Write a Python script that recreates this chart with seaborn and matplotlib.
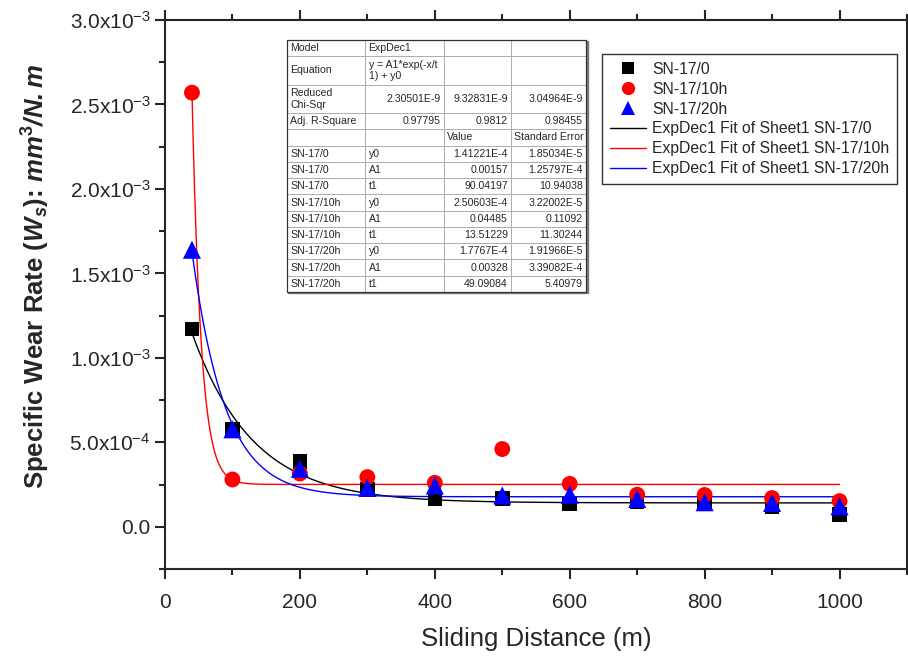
import numpy as np
import pandas as pd
import matplotlib
matplotlib.use("Agg")
import matplotlib.pyplot as plt
import matplotlib.transforms as mtransforms
import seaborn as sns
from matplotlib.lines import Line2D
from matplotlib.patches import Rectangle
from matplotlib.ticker import MultipleLocator, FuncFormatter

# ---- data ----
samples = ["SN-17/0", "SN-17/10h", "SN-17/20h"]
distance = [40, 100, 200, 300, 400, 500, 600, 700, 800, 900, 1000]
wear_0 = [1.17e-3, 5.75e-4, 3.85e-4, 2.20e-4, 1.67e-4, 1.67e-4, 1.35e-4, 1.50e-4, 1.45e-4, 1.17e-4, 7.1e-5]
wear_10h = [2.57e-3, 2.80e-4, 3.15e-4, 2.94e-4, 2.60e-4, 4.60e-4, 2.54e-4, 1.90e-4, 1.88e-4, 1.70e-4, 1.52e-4]
wear_20h = [1.64e-3, 5.77e-4, 3.43e-4, 2.30e-4, 2.44e-4, 1.85e-4, 1.90e-4, 1.65e-4, 1.45e-4, 1.41e-4, 1.21e-4]

# ExpDec1 fit parameters (from the inset table)
fit_y0 = [1.41221e-4, 2.50603e-4, 1.7767e-4]
fit_A1 = [0.00157, 0.04485, 0.00328]
fit_t1 = [90.04197, 13.51229, 49.09084]

fit_labels = ["ExpDec1 Fit of Sheet1 SN-17/0",
              "ExpDec1 Fit of Sheet1 SN-17/10h",
              "ExpDec1 Fit of Sheet1 SN-17/20h"]

table_rows = [
    ["Model", "ExpDec1", "", ""],
    ["Equation", "y = A1*exp(-x/t\n1) + y0", "", ""],
    ["Reduced\nChi-Sqr", "2.30501E-9", "9.32831E-9", "3.04964E-9"],
    ["Adj. R-Square", "0.97795", "0.9812", "0.98455"],
    ["", "", "Value", "Standard Error"],
    ["SN-17/0", "y0", "1.41221E-4", "1.85034E-5"],
    ["SN-17/0", "A1", "0.00157", "1.25797E-4"],
    ["SN-17/0", "t1", "90.04197", "10.94038"],
    ["SN-17/10h", "y0", "2.50603E-4", "3.22002E-5"],
    ["SN-17/10h", "A1", "0.04485", "0.11092"],
    ["SN-17/10h", "t1", "13.51229", "11.30244"],
    ["SN-17/20h", "y0", "1.7767E-4", "1.91966E-5"],
    ["SN-17/20h", "A1", "0.00328", "3.39082E-4"],
    ["SN-17/20h", "t1", "49.09084", "5.40979"],
]

colors = {"SN-17/0": "black", "SN-17/10h": "red", "SN-17/20h": "blue"}
markers = {"SN-17/0": "s", "SN-17/10h": "o", "SN-17/20h": "^"}
sizes = {"SN-17/0": 110, "SN-17/10h": 130, "SN-17/20h": 170}

# ---- frames ----
points = pd.DataFrame({
    "distance": distance * 3,
    "wear": wear_0 + wear_10h + wear_20h,
    "sample": np.repeat(samples, len(distance)),
})

xs = np.linspace(min(distance), max(distance), 500)
fits = []
for s, y0, a1, t1 in zip(samples, fit_y0, fit_A1, fit_t1):
    fits.append(pd.DataFrame({"distance": xs, "wear": a1 * np.exp(-xs / t1) + y0, "sample": s}))
fits = pd.concat(fits, ignore_index=True)

# ---- style ----
sns.set_style("ticks")
plt.rcParams["font.family"] = ["Liberation Sans", "DejaVu Sans"]
plt.rcParams["mathtext.fontset"] = "custom"
plt.rcParams["mathtext.rm"] = "Liberation Sans"
plt.rcParams["mathtext.it"] = "Liberation Sans:italic"
plt.rcParams["mathtext.bf"] = "Liberation Sans:bold"
plt.rcParams["mathtext.bfit"] = "Liberation Sans:italic:bold"
plt.rcParams["mathtext.default"] = "regular"

fig = plt.figure(figsize=(9.08, 6.6), dpi=100)
ax = fig.add_axes([0.1817, 0.1379, 0.8172, 0.8318])

sns.lineplot(data=fits, x="distance", y="wear", hue="sample", palette=colors,
             linewidth=1.0, legend=False, ax=ax, zorder=2)
sns.scatterplot(data=points, x="distance", y="wear", hue="sample", style="sample",
                size="sample", sizes=sizes, markers=markers, palette=colors,
                linewidth=0, legend=False, ax=ax, zorder=3)

ax.set_xlim(0, 1100)
ax.set_ylim(-2.5e-4, 3.0e-3)
ax.xaxis.set_major_locator(MultipleLocator(200))
ax.xaxis.set_minor_locator(MultipleLocator(100))
ax.yaxis.set_major_locator(MultipleLocator(5e-4))
ax.yaxis.set_minor_locator(MultipleLocator(2.5e-4))


def sci_fmt(v, pos):
    if abs(v) < 1e-12:
        return "0.0"
    e = int(np.floor(np.log10(abs(v))))
    m = v / 10 ** e
    return f"{m:.1f}x10$^{{{e}}}$"


ax.yaxis.set_major_formatter(FuncFormatter(sci_fmt))
ax.tick_params(which="both", direction="out", width=1.5, top=True, right=False,
               labelsize=15)
ax.tick_params(which="major", length=7)
ax.tick_params(which="minor", length=4)
ax.tick_params(axis="x", which="major", pad=10)
for sp in ax.spines.values():
    sp.set_linewidth(1.5)
    sp.set_visible(True)

ax.set_xlabel("Sliding Distance (m)", fontsize=18.5, labelpad=11)
ax.set_ylabel(r"Specific Wear Rate ($\mathbfit{W}_{\mathbfit{s}}$): "
              r"$\mathbfit{mm}^{\mathbf{3}}\mathbfit{/N.m}$",
              fontsize=18.5, fontweight="bold")
ax.yaxis.set_label_coords(-0.152, 0.532)

# ---- legend ----
handles = [Line2D([], [], ls="none", marker=markers[s], color=colors[s],
                  ms={"s": 8, "o": 9.5, "^": 10.5}[markers[s]], mew=0) for s in samples]
handles += [Line2D([], [], color=colors[s], lw=1.0) for s in samples]
leg = ax.legend(handles, samples + fit_labels, loc="upper right",
                bbox_to_anchor=(0.9865, 0.938), borderaxespad=0, frameon=True,
                fancybox=False, edgecolor="black", fontsize=11.3, handlelength=2.3,
                handletextpad=0.4, labelspacing=0.31, borderpad=0.5)
leg.get_frame().set_linewidth(1.0)

# ---- inset table ----
tb = [0.1644, 0.5046, 0.403, 0.459]
col_w = [78, 79, 67, 75]
row_h = [28.5 if any("\n" in t for t in r) else 16.3 for r in table_rows]
tab = ax.table(cellText=table_rows, colWidths=[w / sum(col_w) for w in col_w], bbox=tb)
tab.auto_set_font_size(False)
tab.set_fontsize(7.6)
tab.set_zorder(5)
for (r, c), cell in tab.get_celld().items():
    cell.set_height(row_h[r] / sum(row_h))
    cell.set_edgecolor("#a8a8a8")
    cell.set_linewidth(0.6)
    cell.PAD = 0.045
    t = cell.get_text()
    try:
        float(t.get_text())
        t.set_ha("right")
    except ValueError:
        t.set_ha("left")

shadow_tr = mtransforms.offset_copy(ax.transAxes, fig=fig, x=1.5, y=-1.5, units="dots")
ax.add_patch(Rectangle((tb[0], tb[1]), tb[2], tb[3], transform=shadow_tr,
                       facecolor="#7a7a7a", edgecolor="#7a7a7a", lw=1.0, zorder=4))
ax.add_patch(Rectangle((tb[0], tb[1]), tb[2], tb[3], transform=ax.transAxes,
                       fill=False, edgecolor="#333333", lw=0.9, zorder=6))

fig.savefig("out.png", dpi=100)
